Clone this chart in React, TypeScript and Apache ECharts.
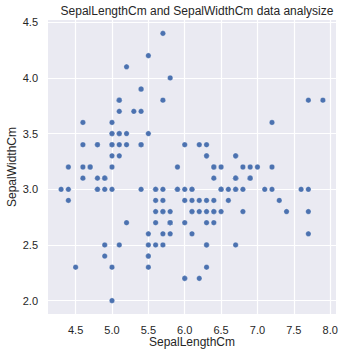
import React, { useEffect, useRef } from "react";
import * as echarts from "echarts";

const sepalLength: number[] = [
  5.1, 4.9, 4.7, 4.6, 5.0, 5.4, 4.6, 5.0, 4.4, 4.9, 5.4, 4.8, 4.8, 4.3, 5.8, 5.7, 5.4, 5.1, 5.7, 5.1,
  5.4, 5.1, 4.6, 5.1, 4.8, 5.0, 5.0, 5.2, 5.2, 4.7, 4.8, 5.4, 5.2, 5.5, 4.9, 5.0, 5.5, 4.9, 4.4, 5.1,
  5.0, 4.5, 4.4, 5.0, 5.1, 4.8, 5.1, 4.6, 5.3, 5.0,
  7.0, 6.4, 6.9, 5.5, 6.5, 5.7, 6.3, 4.9, 6.6, 5.2, 5.0, 5.9, 6.0, 6.1, 5.6, 6.7, 5.6, 5.8, 6.2, 5.6,
  5.9, 6.1, 6.3, 6.1, 6.4, 6.6, 6.8, 6.7, 6.0, 5.7, 5.5, 5.5, 5.8, 6.0, 5.4, 6.0, 6.7, 6.3, 5.6, 5.5,
  5.5, 6.1, 5.8, 5.0, 5.6, 5.7, 5.7, 6.2, 5.1, 5.7,
  6.3, 5.8, 7.1, 6.3, 6.5, 7.6, 4.9, 7.3, 6.7, 7.2, 6.5, 6.4, 6.8, 5.7, 5.8, 6.4, 6.5, 7.7, 7.7, 6.0,
  6.9, 5.6, 7.7, 6.3, 6.7, 7.2, 6.2, 6.1, 6.4, 7.2, 7.4, 7.9, 6.4, 6.3, 6.1, 7.7, 6.3, 6.4, 6.0, 6.9,
  6.7, 6.9, 5.8, 6.8, 6.7, 6.7, 6.3, 6.5, 6.2, 5.9,
];

const sepalWidth: number[] = [
  3.5, 3.0, 3.2, 3.1, 3.6, 3.9, 3.4, 3.4, 2.9, 3.1, 3.7, 3.4, 3.0, 3.0, 4.0, 4.4, 3.9, 3.5, 3.8, 3.8,
  3.4, 3.7, 3.6, 3.3, 3.4, 3.0, 3.4, 3.5, 3.4, 3.2, 3.1, 3.4, 4.1, 4.2, 3.1, 3.2, 3.5, 3.1, 3.0, 3.4,
  3.5, 2.3, 3.2, 3.5, 3.8, 3.0, 3.8, 3.2, 3.7, 3.3,
  3.2, 3.2, 3.1, 2.3, 2.8, 2.8, 3.3, 2.4, 2.9, 2.7, 2.0, 3.0, 2.2, 2.9, 2.9, 3.1, 3.0, 2.7, 2.2, 2.5,
  3.2, 2.8, 2.5, 2.8, 2.9, 3.0, 2.8, 3.0, 2.9, 2.6, 2.4, 2.4, 2.7, 2.7, 3.0, 3.4, 3.1, 2.3, 3.0, 2.5,
  2.6, 3.0, 2.6, 2.3, 2.7, 3.0, 2.9, 2.9, 2.5, 2.8,
  3.3, 2.7, 3.0, 2.9, 3.0, 3.0, 2.5, 2.9, 2.5, 3.6, 3.2, 2.7, 3.0, 2.5, 2.8, 3.2, 3.0, 3.8, 2.6, 2.2,
  3.2, 2.8, 2.8, 2.7, 3.3, 3.2, 2.8, 3.0, 2.8, 3.0, 2.8, 3.8, 2.8, 2.8, 2.6, 3.0, 3.4, 3.1, 3.0, 3.1,
  3.1, 3.1, 2.7, 3.2, 3.3, 3.0, 2.5, 3.0, 3.4, 3.0,
];

const xTicks: number[] = [4.5, 5.0, 5.5, 6.0, 6.5, 7.0, 7.5, 8.0];
const yTicks: number[] = [2.0, 2.5, 3.0, 3.5, 4.0, 4.5];

const FONT = "'Liberation Sans', Arial, sans-serif";
const TEXT = "#262626";

export default function App() {
  const ref = useRef<HTMLDivElement>(null);
  useEffect(() => {
    if (!ref.current) return;
    const chart = echarts.init(ref.current, undefined, { renderer: "svg" });
    const data = sepalLength.map((x, i) => [x, sepalWidth[i]]);
    const gridLines = [
      ...xTicks.map((v) => ({ xAxis: v })),
      ...yTicks.map((v) => ({ yAxis: v })),
    ];
    chart.setOption({
      animation: false,
      backgroundColor: "#ffffff",
      title: {
        text: "SepalLengthCm and SepalWidthCm data analysize",
        left: 192,
        textAlign: "center",
        top: 0,
        textStyle: { fontFamily: FONT, fontSize: 12, fontWeight: "normal", color: TEXT },
      },
      grid: {
        left: 48,
        right: 24,
        top: 20,
        bottom: 41,
        show: true,
        backgroundColor: "#EAEAF2",
        borderWidth: 0,
        outerBoundsMode: "none",
        containLabel: false,
      },
      xAxis: {
        type: "value",
        min: 4.12,
        max: 8.08,
        name: "SepalLengthCm",
        nameLocation: "middle",
        nameGap: 22,
        nameMoveOverlap: false,
        nameTextStyle: { fontFamily: FONT, fontSize: 12, color: TEXT },
        axisLine: { show: false },
        axisTick: { show: false, customValues: xTicks },
        axisLabel: {
          customValues: xTicks,
          formatter: (v: number) => v.toFixed(1),
          fontFamily: FONT,
          fontSize: 11,
          color: TEXT,
          margin: 10,
        },
        splitLine: { show: false },
      },
      yAxis: {
        type: "value",
        min: 1.88,
        max: 4.52,
        name: "SepalWidthCm",
        nameLocation: "middle",
        nameGap: 30,
        nameMoveOverlap: false,
        nameTextStyle: { fontFamily: FONT, fontSize: 12, color: TEXT },
        axisLine: { show: false },
        axisTick: { show: false, customValues: yTicks },
        axisLabel: {
          customValues: yTicks,
          formatter: (v: number) => v.toFixed(1),
          fontFamily: FONT,
          fontSize: 11,
          color: TEXT,
          margin: 10,
        },
        splitLine: { show: false },
      },
      series: [
        {
          type: "scatter",
          data: [],
          z: 1,
          silent: true,
          markLine: {
            silent: true,
            z: 1,
            symbol: "none",
            label: { show: false },
            emphasis: { disabled: true },
            lineStyle: { color: "#ffffff", width: 1.2, type: "solid", opacity: 1 },
            data: gridLines,
          },
        },
        {
          type: "scatter",
          data,
          z: 5,
          symbolSize: 5.5,
          itemStyle: { color: "#4C72B0", borderColor: "#ffffff", borderWidth: 0.3, opacity: 1 },
        },
      ],
    });
    return () => chart.dispose();
  }, []);
  return <div ref={ref} style={{ width: 360, height: 355, position: "absolute", left: 0, top: 0 }} />;
}
